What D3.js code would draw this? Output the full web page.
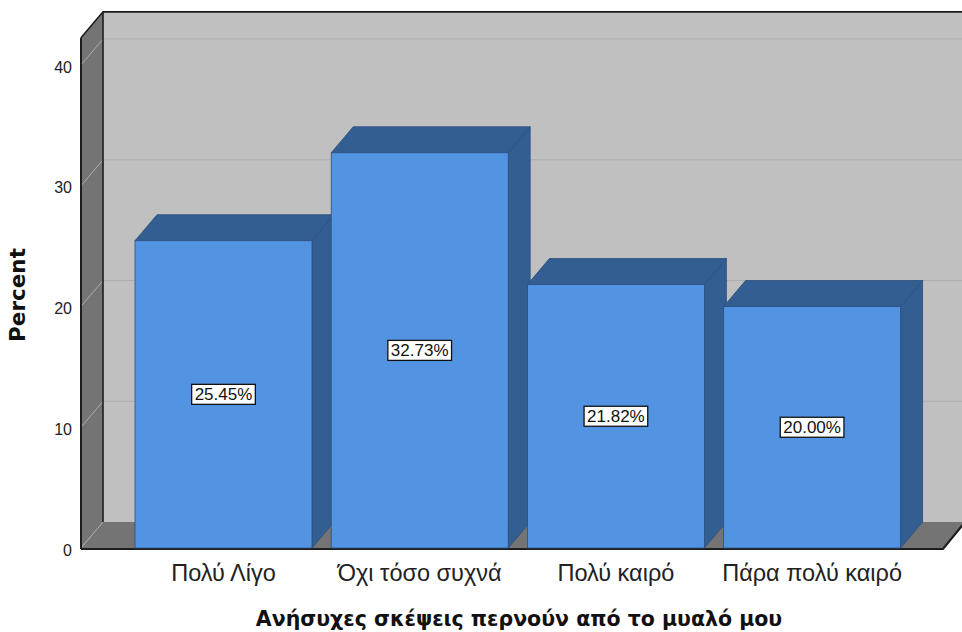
<!DOCTYPE html>
<html>
<head>
<meta charset="utf-8">
<script src="https://cdn.jsdelivr.net/npm/d3@7"></script>
<style>
  html, body { margin: 0; padding: 0; background: #ffffff; }
  svg { display: block; }
</style>
</head>
<body>
<svg id="chart" width="962" height="632"></svg>
<script>
// Survey responses and their percentages
const categories = ["Πολύ Λίγο", "Όχι τόσο συχνά", "Πολύ καιρό", "Πάρα πολύ καιρό"];
const percents = [25.45, 32.73, 21.82, 20.00];
const yTicks = [0, 10, 20, 30, 40];
const xTitle = "Ανήσυχες σκέψεις περνούν από το μυαλό μου";
const yTitle = "Percent";

const svg = d3.select("#chart");

// 3D box geometry: front plane and depth offset
const front = { left: 81, right: 943, bottom: 548 };
const depth = { dx: 22, dy: -26 };
const wallTopValue = 42.25;

const y = d3.scaleLinear().domain([0, 40]).range([548, 65]);
const x = d3.scaleBand().domain(categories).range([125.2, 910.4])
  .paddingInner(0.098).paddingOuter(0.05);

const wallTop = y(wallTopValue);
const backLeft = front.left + depth.dx;
const backBottom = front.bottom + depth.dy;
const backTop = wallTop + depth.dy;

const poly = pts => "M" + pts.map(p => p.join(",")).join("L") + "Z";

// back wall
svg.append("path")
  .attr("d", poly([[backLeft, backTop], [970, backTop], [970, backBottom], [backLeft, backBottom]]))
  .attr("fill", "#c0c0c0");

// left wall
svg.append("path")
  .attr("d", poly([[front.left, wallTop], [backLeft, backTop], [backLeft, backBottom], [front.left, front.bottom]]))
  .attr("fill", "#747474");

// floor
svg.append("path")
  .attr("d", poly([[front.left, front.bottom], [backLeft, backBottom], [front.right + depth.dx, backBottom], [front.right, front.bottom]]))
  .attr("fill", "#747474");

// gridlines: diagonal across the left wall, then along the back wall
const grid = svg.append("g").attr("fill", "none").attr("stroke", "#acacac").attr("stroke-width", 1);
yTicks.forEach(t => {
  const yf = y(t);
  grid.append("path")
    .attr("d", `M${front.left},${yf}L${backLeft},${yf + depth.dy}` + (t > 0 ? `L970,${yf + depth.dy}` : ""));
});

// frame edges
const edges = svg.append("g").attr("fill", "none").attr("stroke", "#1e1e1e");
edges.append("path").attr("d", `M${front.left},${wallTop}L${front.left},${front.bottom + 1}`).attr("stroke-width", 2);
edges.append("path").attr("d", `M${backLeft},${backTop}L${backLeft},${backBottom}`).attr("stroke-width", 1.6);
edges.append("path").attr("d", `M${front.left},${wallTop}L${backLeft},${backTop}L970,${backTop}`).attr("stroke-width", 1.6);
edges.append("path").attr("d", `M${front.left},${front.bottom + 1}L${front.right},${front.bottom + 1}L${front.right + depth.dx},${backBottom}`).attr("stroke-width", 2.2);

// bars
const bars = svg.append("g").selectAll("g").data(categories).join("g");
const barFront = "#5294e2", barDark = "#335e92", barEdge = "#2c4f7d";

bars.append("path") // right side face
  .attr("d", (c, i) => {
    const x1 = x(c) + x.bandwidth(), yt = y(percents[i]);
    return poly([[x1, yt], [x1 + depth.dx, yt + depth.dy], [x1 + depth.dx, y(0) + depth.dy], [x1, y(0)]]);
  })
  .attr("fill", barDark).attr("stroke", barEdge).attr("stroke-width", 0.8);

bars.append("path") // top face
  .attr("d", (c, i) => {
    const x0 = x(c), x1 = x0 + x.bandwidth(), yt = y(percents[i]);
    return poly([[x0, yt], [x0 + depth.dx, yt + depth.dy], [x1 + depth.dx, yt + depth.dy], [x1, yt]]);
  })
  .attr("fill", barDark).attr("stroke", barEdge).attr("stroke-width", 0.8);

bars.append("rect") // front face
  .attr("x", c => x(c))
  .attr("y", (c, i) => y(percents[i]))
  .attr("width", x.bandwidth())
  .attr("height", (c, i) => y(0) - y(percents[i]))
  .attr("fill", barFront).attr("stroke", barEdge).attr("stroke-width", 0.8);

// value labels in white boxes at mid-height
bars.each(function (c, i) {
  const g = d3.select(this);
  const cx = x(c) + x.bandwidth() / 2;
  const cy = y(percents[i] / 2);
  const t = g.append("text")
    .attr("x", cx).attr("y", cy + 6)
    .attr("text-anchor", "middle")
    .attr("font-family", "Liberation Sans, Arial, sans-serif")
    .attr("font-size", 17)
    .attr("fill", "#111")
    .text(percents[i].toFixed(2) + "%");
  const w = t.node().getComputedTextLength() + 6;
  g.insert("rect", "text")
    .attr("x", cx - w / 2).attr("y", cy - 10)
    .attr("width", w).attr("height", 20)
    .attr("fill", "#ffffff").attr("stroke", "#111").attr("stroke-width", 1.3);
});

// y tick labels
svg.append("g").selectAll("text").data(yTicks).join("text")
  .attr("x", 72).attr("y", d => y(d) + 7.5)
  .attr("text-anchor", "end")
  .attr("font-family", "Liberation Sans, Arial, sans-serif")
  .attr("font-size", 16)
  .attr("fill", "#222")
  .text(d => d);

// category labels
svg.append("g").selectAll("text").data(categories).join("text")
  .attr("x", c => x(c) + x.bandwidth() / 2)
  .attr("y", 581)
  .attr("text-anchor", "middle")
  .attr("font-family", "Liberation Sans, Arial, sans-serif")
  .attr("font-size", 23.5)
  .attr("fill", "#222")
  .text(c => c);

// axis titles
svg.append("text")
  .attr("x", 519).attr("y", 626)
  .attr("text-anchor", "middle")
  .attr("font-family", "DejaVu Sans, sans-serif")
  .attr("font-weight", "bold")
  .attr("font-size", 20.5)
  .attr("fill", "#111")
  .text(xTitle);

svg.append("text")
  .attr("transform", "translate(25,295) rotate(-90)")
  .attr("text-anchor", "middle")
  .attr("font-family", "DejaVu Sans, sans-serif")
  .attr("font-weight", "bold")
  .attr("font-size", 21.5)
  .attr("fill", "#111")
  .text(yTitle);
</script>
</body>
</html>
